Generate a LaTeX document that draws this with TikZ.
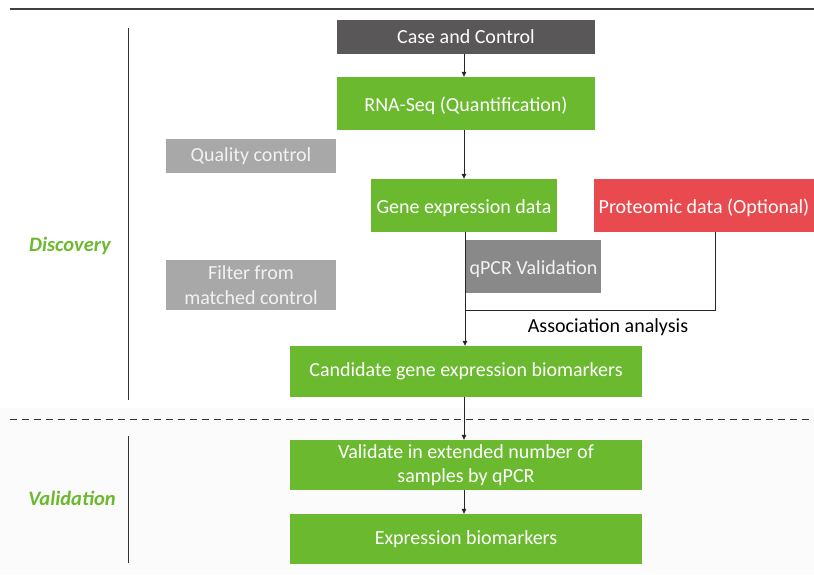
\documentclass[tikz,border=0pt]{standalone}
\usepackage{fontspec}
\setmainfont{Carlito}
\usetikzlibrary{arrows.meta}
\definecolor{leaf}{HTML}{6AB92E}
\definecolor{slate}{HTML}{595757}
\definecolor{fog}{HTML}{A8A8A8}
\definecolor{ash}{HTML}{898989}
\definecolor{coral}{HTML}{E84A4F}
\begin{document}
\begin{tikzpicture}[x=1pt,y=-1pt,
  box/.style={rectangle,inner sep=0pt,text=white,font=\fontsize{20}{24.5}\selectfont,align=center},
  greenbox/.style={box,fill=leaf},
  lowtext/.style={text height=19pt,text depth=4pt},
  link/.style={line width=0.7pt,black!85},
  flow/.style={link,-{Triangle[length=5pt,width=4.5pt]}},
  phase/.style={font=\fontsize{20.5}{24}\selectfont\bfseries\itshape,text=leaf},
  rule/.style={line width=0.7pt,black!80}]
  \useasboundingbox (0,0) rectangle (814,574);
  % faint tone behind the validation stage
  \fill[black!1.5] (0,408) rectangle (814,574);

  % frame lines
  \draw[line width=1.4pt,black!75] (10,9) -- (814,9);
  \draw[rule,dashed,dash pattern=on 7pt off 5pt] (10,419) -- (814,419);
  \draw[rule] (128,28) -- (128,400);
  \draw[rule] (128,436) -- (128,563);

  % stage labels
  \node[phase] (disc) at (70,246) {Discovery};
  \node[phase] (vali) at (72,498) {Validation};

  % boxes
  \node[box,fill=slate,minimum width=258pt,minimum height=34pt] (cc) at (466,37) {Case and Control};
  \node[greenbox,lowtext,minimum width=258pt,minimum height=53pt] (rna) at (466,103.5) {RNA-Seq (Quantification)};
  \node[box,fill=fog,text=white!95!black,minimum width=170pt,minimum height=34pt] (qc) at (251,156) {Quality control};
  \node[greenbox,lowtext,minimum width=186pt,minimum height=53pt] (gene) at (464,205.5) {Gene expression data};
  \node[box,lowtext,fill=coral,minimum width=220pt,minimum height=53pt] (prot) at (704,205.5) {Proteomic data (Optional)};
  \node[box,lowtext,fill=ash,text=white!95!black,minimum width=135pt,minimum height=53pt] (qpcr) at (533.5,266.5) {qPCR Validation};
  \node[box,fill=fog,text=white!95!black,minimum width=170pt,minimum height=50pt] (filt) at (251,285) {Filter from\\matched control};
  \node[greenbox,minimum width=352pt,minimum height=51pt] (cand) at (466,371.5) {Candidate gene expression biomarkers};
  \node[greenbox,minimum width=352pt,minimum height=50pt] (vald) at (466,465) {Validate in extended number of\\samples by qPCR};
  \node[greenbox,minimum width=352pt,minimum height=50pt] (expr) at (466,539) {Expression biomarkers};

  % connectors
  \coordinate (join) at (465,310);
  \draw[flow] (cc.south -| 464,0) -- (rna.north -| 464,0);
  \draw[flow] (rna.south -| 464,0) -- (gene.north -| 464,0);
  \draw[flow] (gene.south -| join) -- (cand.north -| join);
  \draw[link] ([xshift=11pt]prot.south) |- (join);
  \node[font=\fontsize{20}{24}\selectfont,text=black] (assoc) at (608,327) {Association analysis};
  \draw[flow] (cand.south -| 464,0) -- (vald.north -| 464,0);
  \draw[flow] (vald.south -| 464,0) -- (expr.north -| 464,0);
\end{tikzpicture}
\end{document}
